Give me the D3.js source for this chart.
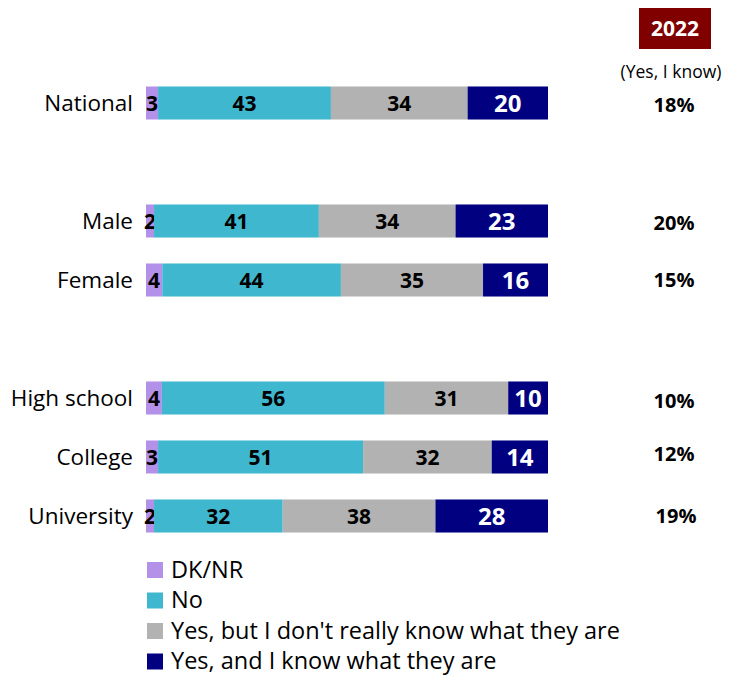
<!DOCTYPE html>
<html>
<head>
<meta charset="utf-8">
<script src="https://cdn.jsdelivr.net/npm/d3@7"></script>
<style>
  body { margin: 0; background: #fff; }
  svg { font-family: "Open Sans", Lato, sans-serif; }
</style>
</head>
<body>
<svg></svg>
<script>
let width = 730
let height = 677

// rows ('' = empty slot between groups)
let categories = ['National', '', 'Male', 'Female', '', 'High school', 'College', 'University']
let series = ['DK/NR', 'No', "Yes, but I don't really know what they are", 'Yes, and I know what they are']
let colors = ['#b491e8', '#3fb7cf', '#b2b2b2', '#000080']

let dknr = [3, null, 2, 4, null, 4, 3, 2]
let no = [43, null, 41, 44, null, 56, 51, 32]
let yesBut = [34, null, 34, 35, null, 31, 32, 38]
let yesKnow = [20, null, 23, 16, null, 10, 14, 28]
let prev2022 = ['18%', '', '20%', '15%', '', '10%', '12%', '19%']

let svg = d3.select('svg')
    .attr('width', width)
    .attr('height', height)

let xScale = d3.scaleLinear()
    .domain([0, 100])
    .range([146, 548])

// band scale keyed by row index (blank slots repeat '')
let yScale = d3.scaleBand()
    .domain(categories.map((c, i) => i))
    .range([73.5, 545.5])
    .paddingInner(0.44)
    .paddingOuter(0.22)

let seriesValues = [dknr, no, yesBut, yesKnow]

// the 2022 column isn't perfectly aligned in the original
let nudgeY = [2, 0, 2, 0, 0, 3, -3, 0]

categories.forEach((cat, i) => {
    if (cat === '') return
    let vals = seriesValues.map(s => s[i])
    let total = d3.sum(vals)
    let start = 0
    let y = yScale(i)
    let bh = yScale.bandwidth()

    let g = svg.append('g')
    vals.forEach((v, j) => {
        let x0 = xScale(start / total * 100)
        let x1 = xScale((start + v) / total * 100)
        g.append('rect')
            .attr('x', x0)
            .attr('y', y)
            .attr('width', x1 - x0)
            .attr('height', bh)
            .attr('fill', colors[j])
        g.append('text')
            .attr('x', (x0 + x1) / 2)
            .attr('y', y + bh / 2)
            .attr('dy', '0.36em')
            .attr('text-anchor', 'middle')
            .attr('font-weight', 'bold')
            .attr('font-size', j === 3 ? 24 : 21)
            .attr('fill', j === 3 ? '#fff' : '#000')
            .text(v)
        start += v
    })

    svg.append('text')
        .attr('x', 133)
        .attr('y', y + bh / 2)
        .attr('dy', '0.36em')
        .attr('text-anchor', 'end')
        .attr('font-size', 22.5)
        .attr('fill', '#000')
        .text(cat)

    svg.append('text')
        .attr('x', i === 7 ? 676 : 674)
        .attr('y', y + bh / 2 + nudgeY[i])
        .attr('dy', '0.36em')
        .attr('text-anchor', 'middle')
        .attr('font-weight', 'bold')
        .attr('font-size', 20)
        .attr('fill', '#000')
        .text(prev2022[i])
})

// 2022 header
svg.append('rect')
    .attr('x', 639)
    .attr('y', 8)
    .attr('width', 72)
    .attr('height', 41)
    .attr('fill', '#800000')
svg.append('text')
    .attr('x', 675)
    .attr('y', 28.5)
    .attr('dy', '0.36em')
    .attr('text-anchor', 'middle')
    .attr('font-weight', 'bold')
    .attr('font-size', 21)
    .attr('fill', '#fff')
    .text('2022')
svg.append('text')
    .attr('x', 671)
    .attr('y', 72)
    .attr('dy', '0.36em')
    .attr('text-anchor', 'middle')
    .attr('font-size', 17.5)
    .attr('fill', '#000')
    .text('(Yes, I know)')

// legend
let legend = svg.append('g')
series.forEach((s, j) => {
    let ly = 570 + j * 30.5
    legend.append('rect')
        .attr('x', 147)
        .attr('y', ly - 8)
        .attr('width', 16)
        .attr('height', 16)
        .attr('fill', colors[j])
    legend.append('text')
        .attr('x', 171)
        .attr('y', ly)
        .attr('dy', '0.34em')
        .attr('font-size', 23.5)
        .attr('fill', '#000')
        .text(s)
})
</script>
</body>
</html>
